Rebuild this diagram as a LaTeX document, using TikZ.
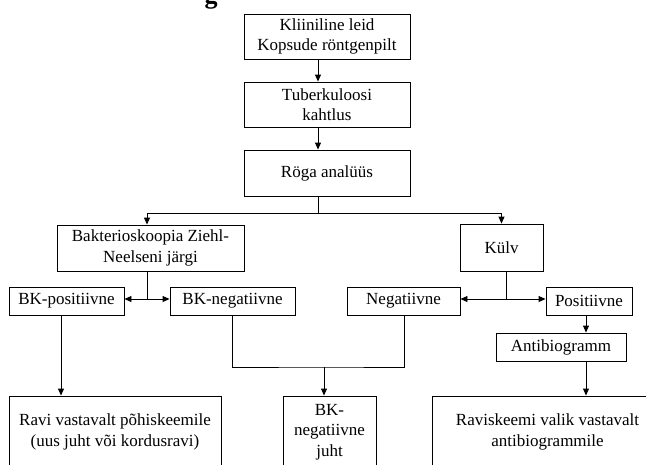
\documentclass[tikz,border=0pt]{standalone}
\usepackage{fontspec}
\setmainfont{Liberation Serif}
\usetikzlibrary{arrows.meta}
\begin{document}
\begin{tikzpicture}[x=1pt,y=-1pt,
  box/.style={draw,line width=0.9pt,inner sep=0pt,align=center,font=\fontsize{17}{20.5}\selectfont},
  arr/.style={line width=0.9pt,-{Triangle[length=7pt,width=6pt]}},
  ln/.style={line width=0.9pt}]
\useasboundingbox (0,0) rectangle (646,464);
\node[font=\fontsize{26}{30}\selectfont\bfseries,anchor=base] (hd) at (211,3) {g};
\node[box,minimum width=166pt,minimum height=45pt] (k1) at (327,36.5) {Kliiniline leid\\Kopsude röntgenpilt};
\node[box,minimum width=166pt,minimum height=45pt] (k2) at (327,104.5) {Tuberkuloosi\\kahtlus};
\node[box,minimum width=166pt,minimum height=46pt] (k3) at (327,173) {Röga analüüs};
\node[box,minimum width=187pt,minimum height=46pt] (bak) at (150.5,248) {Bakterioskoopia Ziehl-\\Neelseni järgi};
\node[box,minimum width=83pt,minimum height=47pt] (kulv) at (501.5,247.5) {Külv};
\node[box,minimum width=115pt,minimum height=28pt] (bkpos) at (66.5,301) {BK-positiivne};
\node[box,minimum width=125pt,minimum height=28pt] (bkneg) at (232.5,301) {BK-negatiivne};
\node[box,minimum width=113pt,minimum height=28pt] (neg) at (403.5,301) {Negatiivne};
\node[box,minimum width=86pt,minimum height=28pt] (pos) at (589,301) {Positiivne};
\node[box,minimum width=130pt,minimum height=28pt] (anti) at (561,347) {Antibiogramm};
\node[box,minimum width=212pt,minimum height=72pt] (ravi) at (115,432) {Ravi vastavalt põhiskeemile\\(uus juht või kordusravi)};
\node[box,minimum width=93pt,minimum height=72pt] (bkj) at (329.5,432) {BK-\\negatiivne\\juht};
\node[box,minimum width=231pt,minimum height=72pt] (ravisk) at (547.5,432) {Raviskeemi valik vastavalt\\antibiogrammile};
\coordinate (xa) at (318,0);
\coordinate (xb) at (147,0);
\coordinate (xc) at (586,0);
\coordinate (xd) at (61,0);
\coordinate (xe) at (232,0);
\coordinate (xf) at (404,0);
\coordinate (s1) at (318,213);
\coordinate (s2) at (147,299);
\coordinate (s3) at (506,299);
\coordinate (m) at (324,367);
\draw[arr] (k1.south -| xa) -- (k2.north -| xa);
\draw[arr] (k2.south -| xa) -- (k3.north -| xa);
\draw[ln] (k3.south -| xa) -- (s1);
\draw[arr] (s1) -| (bak.north -| xb);
\draw[arr] (s1) -| (kulv.north);
\draw[ln] (bak.south -| s2) -- (s2);
\draw[arr] (s2) -- (s2 -| bkpos.east);
\draw[arr] (s2) -- (s2 -| bkneg.west);
\draw[ln] (kulv.south -| s3) -- (s3);
\draw[arr] (s3) -- (s3 -| neg.east);
\draw[arr] (s3) -- (s3 -| pos.west);
\draw[arr] (pos.south -| xc) -- (anti.north -| xc);
\draw[arr] (anti.south -| xc) -- (ravisk.north -| xc);
\draw[arr] (bkpos.south -| xd) -- (ravi.north -| xd);
\draw[ln] (bkneg.south -| xe) |- (m) -| (neg.south -| xf);
\draw[arr] (m) -- (bkj.north -| m);
\end{tikzpicture}
\end{document}
